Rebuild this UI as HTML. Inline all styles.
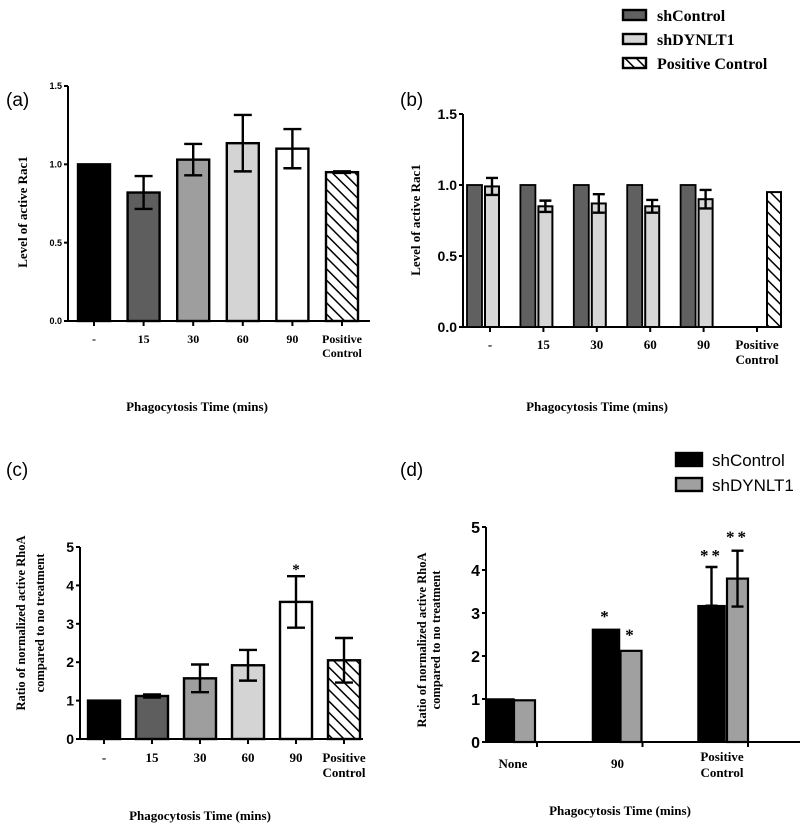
<!DOCTYPE html>
<html><head><meta charset="utf-8"><style>
html,body{margin:0;padding:0;background:#fff;}
svg{display:block;}
.ser{font-family:"Liberation Serif",serif;font-weight:bold;}
.san{font-family:"Liberation Sans",sans-serif;}
</style></head><body>
<svg id="fig" width="800" height="830" viewBox="0 0 800 830" xmlns="http://www.w3.org/2000/svg">
<defs>
<pattern id="hatch" patternUnits="userSpaceOnUse" width="8" height="8" patternTransform="rotate(-45)">
<rect width="8" height="8" fill="#fff"/><line x1="0" y1="0" x2="0" y2="8" stroke="#000" stroke-width="3"/>
</pattern>
</defs>
<text x="6" y="106" class="san" font-size="19">(a)</text>
<text x="400" y="106" class="san" font-size="19">(b)</text>
<text x="6" y="476" class="san" font-size="19">(c)</text>
<text x="400" y="476" class="san" font-size="19">(d)</text>
<g id="root"></g>
</svg>
<script>
// Panel a data
const catsA = ["-", "15", "30", "60", "90", "Positive|Control"];
const valsA = [1.0, 0.82, 1.03, 1.135, 1.1, 0.95];
const errA = [0, 0.105, 0.1, 0.18, 0.125, 0.005];
const ticksA = ["0.0", "0.5", "1.0", "1.5"];
// Panel b data
const catsB = ["-", "15", "30", "60", "90", "Positive|Control"];
const valsBCtrl = [1.0, 1.0, 1.0, 1.0, 1.0];
const valsBDyn = [0.99, 0.85, 0.87, 0.85, 0.90];
const errBDyn = [0.06, 0.04, 0.065, 0.045, 0.065];
const valBPos = 0.95;
const ticksB = ["0.0", "0.5", "1.0", "1.5"];
// Panel c data
const catsC = ["-", "15", "30", "60", "90", "Positive|Control"];
const valsC = [1.0, 1.12, 1.58, 1.92, 3.57, 2.05];
const errC = [0, 0.04, 0.36, 0.4, 0.67, 0.58];
const ticksC = ["0", "1", "2", "3", "4", "5"];
// Panel d data
const catsD = ["None", "90", "Positive|Control"];
const valsDCtrl = [1.0, 2.62, 3.17];
const errDCtrl = [0, 0.03, 0.9];
const valsDDyn = [0.97, 2.12, 3.8];
const errDDyn = [0.02, 0.05, 0.65];
const starsDCtrl = ["", "*", "**"];
const starsDDyn = ["", "*", "**"];
const ticksD = ["0", "1", "2", "3", "4", "5"];

const NS = "http://www.w3.org/2000/svg";
const root = document.getElementById("root");
function mk(tag, attrs, parent, txt) {
  const e = document.createElementNS(NS, tag);
  for (const k in attrs) e.setAttribute(k, attrs[k]);
  if (txt !== undefined) e.textContent = txt;
  (parent || root).appendChild(e);
  return e;
}
function group(name) {
  const g = mk("g", {});
  
  
  return g;
}
function errBar(g, cx, y, yTop, yBot, hw, name) {
  const e = mk("path", {d: `M${cx},${yTop}V${yBot}M${cx-hw},${yTop}H${cx+hw}M${cx-hw},${yBot}H${cx+hw}`, stroke: "#000", "stroke-width": 2.4, fill: "none"}, g);
  
  
}
function axes(g, x0, y0, xEnd, yTopPix, ticks, maxV, tickCls, tickSize, centers, cats, labY, labCls, labSize) {
  const sc = v => y0 - v / maxV * (y0 - yTopPix);
  const yax = mk("line", {x1: x0, y1: yTopPix, x2: x0, y2: y0, stroke: "#000", "stroke-width": 2}, g);
  
  
  const xax = mk("line", {x1: x0, y1: y0, x2: xEnd, y2: y0, stroke: "#000", "stroke-width": 2}, g);
  
  
  ticks.forEach((t) => {
    const y = sc(parseFloat(t));
    mk("line", {x1: x0 - 4, y1: y, x2: x0, y2: y, stroke: "#000", "stroke-width": 2}, g);
    const tx = mk("text", {x: x0 - 6, y: y + tickSize * 0.36, "text-anchor": "end", "font-size": tickSize, class: tickCls, "font-weight": "bold"}, g, t);
    
    
  });
  centers.forEach((cx, i) => {
    mk("line", {x1: cx, y1: y0, x2: cx, y2: y0 + 5, stroke: "#000", "stroke-width": 2}, g);
    const parts = cats[i].split("|");
    parts.forEach((p, j) => {
      const tx = mk("text", {x: cx, y: labY + j * labSize * 1.15, "text-anchor": "middle", "font-size": labSize, class: labCls}, g, p);
      
      
    });
  });
  return sc;
}
function title(g, x, y, txt, size, rot, name) {
  const t = mk("text", {x: x, y: y, "text-anchor": "middle", "font-size": size, class: "ser", transform: rot ? `rotate(-90 ${x} ${y})` : ""}, g, txt);
  
  
}

// ---------- Panel A ----------
(function () {
  const g = group("panel-a-chart");
  const x0 = 68, y0 = 321, yTop = 86, maxV = 1.5;
  const centers = catsA.map((c, i) => 94 + i * 49.6);
  const sc = axes(g, x0, y0, 370, yTop, ticksA, maxV, "san", 9, centers, catsA, 343, "ser", 12);
  const fills = ["#000", "#5e5e5e", "#9e9e9e", "#d4d4d4", "#fff", "url(#hatch)"];
  valsA.forEach((v, i) => {
    const y = sc(v);
    const r = mk("rect", {x: centers[i] - 16, y: y, width: 32, height: y0 - y, fill: fills[i], stroke: "#000", "stroke-width": 2.4}, g);
    
    
    if (errA[i] > 0) errBar(g, centers[i], y, sc(v + errA[i]), sc(v - errA[i]), 9, 'error-bar-a-' + i);
  });
  title(g, 27, 212, "Level of active Rac1", 13, true, "y-axis-title-a");
  title(g, 197, 411, "Phagocytosis Time (mins)", 13, false, "x-axis-title-a");
})();

// ---------- Panel B ----------
(function () {
  const g = group("panel-b-chart");
  const x0 = 463, y0 = 327, yTop = 114, maxV = 1.5;
  const centers = catsB.map((c, i) => 490 + i * 53.4);
  const sc = axes(g, x0, y0, 782, yTop, ticksB, maxV, "san", 14, centers, catsB, 349, "ser", 13);
  valsBCtrl.forEach((v, i) => {
    const y = sc(v);
    const r = mk("rect", {x: centers[i] - 23, y: y, width: 15, height: y0 - y, fill: "#606060", stroke: "#000", "stroke-width": 1.8}, g);
    
    
  });
  valsBDyn.forEach((v, i) => {
    const y = sc(v);
    const r = mk("rect", {x: centers[i] - 5, y: y, width: 14, height: y0 - y, fill: "#d6d6d6", stroke: "#000", "stroke-width": 2}, g);
    
    
    errBar(g, centers[i] + 2, y, sc(v + errBDyn[i]), sc(v - errBDyn[i]), 6, 'error-bar-b-' + i);
  });
  const yp = sc(valBPos);
  const rp = mk("rect", {x: 767, y: yp, width: 14, height: y0 - yp, fill: "url(#hatch)", stroke: "#000", "stroke-width": 2}, g);
  
  
  title(g, 420, 220, "Level of active Rac1", 13, true, "y-axis-title-b");
  title(g, 597, 411, "Phagocytosis Time (mins)", 13, false, "x-axis-title-b");
  const leg = [["shControl", "#606060"], ["shDYNLT1", "#d6d6d6"], ["Positive Control", "url(#hatch)"]];
  leg.forEach((l, i) => {
    const y = 10 + i * 24;
    const s = mk("rect", {x: 623, y: y, width: 23, height: 10, fill: l[1], stroke: "#000", "stroke-width": 2.4}, g);
    
    
    const t = mk("text", {x: 657, y: y + 11, "font-size": 16, class: "ser"}, g, l[0]);
    
    
  });
})();

// ---------- Panel C ----------
(function () {
  const g = group("panel-c-chart");
  const x0 = 80, y0 = 739, yTop = 547, maxV = 5;
  const centers = catsC.map((c, i) => 104 + i * 48);
  const sc = axes(g, x0, y0, 363, yTop, ticksC, maxV, "san", 14, centers, catsC, 762, "ser", 13);
  const fills = ["#000", "#5e5e5e", "#9e9e9e", "#d4d4d4", "#fff", "url(#hatch)"];
  valsC.forEach((v, i) => {
    const y = sc(v);
    const r = mk("rect", {x: centers[i] - 16, y: y, width: 32, height: y0 - y, fill: fills[i], stroke: "#000", "stroke-width": 2.4}, g);
    
    
    if (errC[i] > 0) errBar(g, centers[i], y, sc(v + errC[i]), sc(v - errC[i]), 9, 'error-bar-c-' + i);
  });
  const st = mk("text", {x: centers[4], y: sc(4.5) + 8, "text-anchor": "middle", "font-size": 15, class: "ser"}, g, "*");
  
  
  const tt = mk("text", {x: 0, y: 0, "text-anchor": "middle", "font-size": 12.5, class: "ser", transform: "translate(25 623) rotate(-90)"}, g);
  
  
  mk("tspan", {x: 0, dy: 0}, tt, "Ratio of normalized active RhoA");
  mk("tspan", {x: 0, dy: 19}, tt, "compared to no treatment");
  title(g, 200, 820, "Phagocytosis Time (mins)", 13, false, "x-axis-title-c");
})();

// ---------- Panel D ----------
(function () {
  const g = group("panel-d-chart");
  const x0 = 486, y0 = 742, yTop = 527, maxV = 5;
  const tickX = catsD.map((c, i) => 537 + i * 105.5);
  const sc = axes(g, x0, y0, 800, yTop, ticksD, maxV, "san", 16, tickX, catsD.map(() => ""), 765, "ser", 12);
  catsD.forEach((c, i) => {
    const parts = c.split("|");
    const cx = 513 + i * 104.5;
    parts.forEach((p, j) => {
      const t = mk("text", {x: cx, y: (parts.length > 1 ? 761 : 768) + j * 16, "text-anchor": "middle", "font-size": 13, class: "ser"}, g, p);
      
      
    });
  });
  valsDCtrl.forEach((v, i) => {
    const left = 487 + i * 105.5;
    const y = sc(v);
    const r = mk("rect", {x: left, y: y, width: 27, height: y0 - y, fill: "#000", stroke: "#000", "stroke-width": 1.5}, g);
    
    
    if (errDCtrl[i] > 0.1) errBar(g, left + 13.5, y, sc(v + errDCtrl[i]), y, 6, 'error-bar-d-ctrl-' + i);
    if (starsDCtrl[i]) {
      const s = mk("text", {x: left + 13.5, y: sc(v + errDCtrl[i]) - 6, "text-anchor": "middle", "font-size": 17, class: "ser", "letter-spacing": 3}, g, starsDCtrl[i]);
      
      
    }
  });
  valsDDyn.forEach((v, i) => {
    const left = 514 + i * 106.5;
    const y = sc(v);
    const r = mk("rect", {x: left, y: y, width: 21, height: y0 - y, fill: "#a0a0a0", stroke: "#000", "stroke-width": 2.2}, g);
    
    
    if (errDDyn[i] > 0.1) errBar(g, left + 10.5, y, sc(v + errDDyn[i]), sc(v - errDDyn[i]), 6, 'error-bar-d-dyn-' + i);
    if (starsDDyn[i]) {
      const s = mk("text", {x: left + 10.5, y: sc(v + errDDyn[i]) - 8, "text-anchor": "middle", "font-size": 17, class: "ser", "letter-spacing": 3}, g, starsDDyn[i]);
      
      
    }
  });
  const tt = mk("text", {x: 0, y: 0, "text-anchor": "middle", "font-size": 12.5, class: "ser", transform: "translate(426 640) rotate(-90)"}, g);
  
  
  mk("tspan", {x: 0, dy: 0}, tt, "Ratio of normalized active RhoA");
  mk("tspan", {x: 0, dy: 14}, tt, "compared to no treatment");
  title(g, 620, 815, "Phagocytosis Time (mins)", 13, false, "x-axis-title-d");
  const leg = [["shControl", "#000"], ["shDYNLT1", "#a0a0a0"]];
  leg.forEach((l, i) => {
    const y = 453 + i * 25;
    const s = mk("rect", {x: 676, y: y, width: 26, height: 13, fill: l[1], stroke: "#000", "stroke-width": 2.4}, g);
    
    
    const t = mk("text", {x: 712, y: y + 13, "font-size": 17, class: "san"}, g, l[0]);
    
    
  });
})();
</script>
</body></html>
